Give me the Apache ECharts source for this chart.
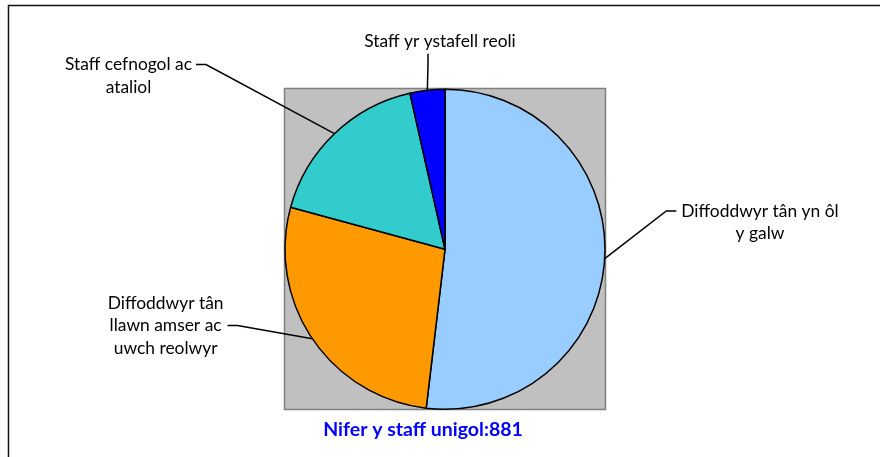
<!DOCTYPE html>
<html><head><meta charset="utf-8">
<script src="https://cdn.jsdelivr.net/npm/echarts@6/dist/echarts.min.js"></script>
<style>html,body{margin:0;padding:0;background:#fff}#c{width:880px;height:457px}</style>
</head><body><div id="c"></div>
<script>
const categories = [
  'Diffoddwyr tân yn ôl\ny galw',
  'Diffoddwyr tân\nllawn amser ac\nuwch reolwyr',
  'Staff cefnogol ac\nataliol',
  'Staff yr ystafell reoli'
];
const values = [457, 241, 152, 31];
const colors = ['#99CCFF', '#FF9900', '#33CCCC', '#0000FF'];
const titleText = 'Nifer y staff unigol:881';

// label placement (style only)
const labelPos = [
  {x: 757.5, y: 211, align: 'center', verticalAlign: 'middle'},
  {x: 167.6, y: 325.5, align: 'center', verticalAlign: 'middle'},
  {x: 130.5, y: 64.5, align: 'center', verticalAlign: 'middle'},
  {x: 428, y: 41, align: 'center', verticalAlign: 'middle'}
];
const labelPad = [
  [0, 0, 0, 5],
  [0, 4, 0, 0],
  [0, 4, 0, 0],
  [0, 0, 3, 24]
];
// a leading blank line moves the leader-line anchor to the first text line
const leadBlank = [true, false, true, false];

const chart = echarts.init(document.getElementById('c'), null, {renderer: 'canvas'});
const font = 'Lato, "Open Sans", sans-serif';
chart.setOption({
  animation: false,
  title: {
    text: titleText, left: 418, top: 415, textAlign: 'center',
    textStyle: {color: '#0000FF', fontFamily: font, fontSize: 19.5, fontWeight: 'bold'}
  },
  graphic: [
    {type: 'rect', z: -10, shape: {x: 8.5, y: 5.5, width: 900, height: 500},
     style: {fill: '#fff', stroke: '#111', lineWidth: 1.5}},
    {type: 'rect', z: -5, shape: {x: 284.5, y: 88.5, width: 321, height: 321},
     style: {fill: '#C0C0C0', stroke: '#808080', lineWidth: 1.5}}
  ],
  series: [{
    type: 'pie',
    center: [445, 249.3],
    radius: 160,
    startAngle: 90,
    clockwise: true,
    avoidLabelOverlap: false,
    emphasis: {disabled: true},
    data: categories.map((c, i) => ({
      name: c, value: values[i],
      itemStyle: {color: colors[i]},
      label: {padding: labelPad[i]}
    })),
    itemStyle: {borderColor: '#000', borderWidth: 1.5},
    label: {
      show: true, position: 'outside',
      formatter: p => (leadBlank[p.dataIndex] ? ' \n' : '') + p.name,
      color: '#000', fontFamily: font, fontSize: 17.4, lineHeight: 22.5
    },
    labelLine: {show: true, length: 10, length2: 10, minTurnAngle: 0,
      lineStyle: {color: '#000', width: 1.5}},
    labelLayout: function (p) {
      return labelPos[p.dataIndex];
    }
  }]
});
</script></body></html>
